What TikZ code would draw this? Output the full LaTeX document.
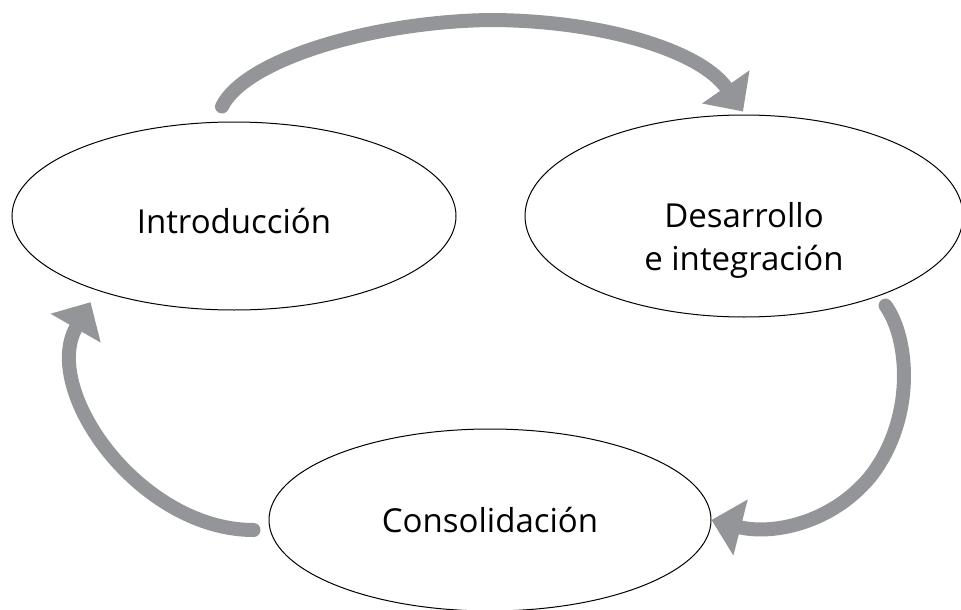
\documentclass[tikz,border=0pt]{standalone}
\usepackage{fontspec}
\setmainfont{Open Sans}
\usetikzlibrary{shapes.geometric,arrows.meta}
\definecolor{cyclegray}{HTML}{939598}
\tikzstyle{stage}=[draw, ellipse, line width=1pt, inner sep=0, align=center,
                   font=\fontsize{33}{43}\selectfont]
\tikzstyle{cyclearrow}=[draw=cyclegray, line width=14pt, line cap=round,
                        -{Triangle[length=30pt, width=56pt]}]
\begin{document}
\begin{tikzpicture}[x=1pt, y=-1pt]
        \useasboundingbox (0,0) rectangle (961,610);
        % the three stages
        \node[stage, minimum width=444pt, minimum height=188pt, text height=34pt, text depth=0pt] (intro) at (234,216) {Introducción};
        \node[stage, minimum width=438pt, minimum height=202pt, text height=108pt, text depth=0pt] (dev) at (744,216) {Desarrollo\\e integración};
        \node[stage, minimum width=442pt, minimum height=182pt] (cons) at (490,520) {Consolidación};
        % arrows round the cycle
        \draw[cyclearrow] ([shift={(-12,-15)}]intro.north) .. controls (245,60) and (370,22) .. (489,20)
            .. controls (600,20) and (700,50) .. ([shift={(-1,-3)}]dev.north);
        \draw[cyclearrow] ([shift={(11,8)}]dev.-32) .. controls (910,340) and (915,420) .. (870,477)
            .. controls (830,525) and (770,535) .. (cons.east);
        \draw[cyclearrow] ([shift={(-15,10)}]cons.west) .. controls (140,530) and (40,390) .. ([shift={(-15,9)}]intro.211);
    \end{tikzpicture}
\end{document}
